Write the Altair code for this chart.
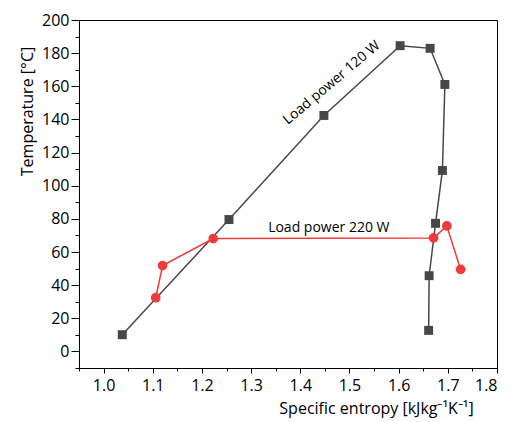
import altair as alt
import pandas as pd

# Load power 120 W (squares)
s120 = [1.038, 1.255, 1.448, 1.603, 1.664, 1.694, 1.689, 1.675, 1.662, 1.661]
t120 = [10.1, 79.6, 142.4, 184.5, 182.9, 161.1, 109.2, 77.3, 45.7, 12.7]
# Load power 220 W (circles)
s220 = [1.106, 1.120, 1.223, 1.671, 1.698, 1.726]
t220 = [32.4, 51.8, 68.1, 68.5, 75.7, 49.5]

series_names = ["Load power 120 W", "Load power 220 W"]
series_colors = ["#474747", "#ef3b3b"]
series_shapes = ["square", "circle"]

x_major_ticks = [1.0, 1.1, 1.2, 1.3, 1.4, 1.5, 1.6, 1.7, 1.8]
x_minor_ticks = [0.95, 1.05, 1.15, 1.25, 1.35, 1.45, 1.55, 1.65, 1.75]
y_major_ticks = [0, 20, 40, 60, 80, 100, 120, 140, 160, 180, 200]
y_minor_ticks = [-10, 10, 30, 50, 70, 90, 110, 130, 150, 170, 190]

labels = ["Load power 120 W", "Load power 220 W"]
label_s = [1.464, 1.458]
label_t = [162.0, 72.0]

rows = []
for i, (s, t) in enumerate(zip(s120, t120)):
    rows.append({"s": s, "T": t, "series": series_names[0], "idx": i})
for i, (s, t) in enumerate(zip(s220, t220)):
    rows.append({"s": s, "T": t, "series": series_names[1], "idx": i})
df = pd.DataFrame(rows)

FONT = "Open Sans"
x_scale = alt.Scale(domain=[0.95, 1.8], nice=False, zero=False)
y_scale = alt.Scale(domain=[-10, 200], nice=False, zero=False)

x_major = alt.X(
    "s:Q",
    scale=x_scale,
    axis=alt.Axis(
        orient="bottom",
        title="Specific entropy [kJkg\u207b\u00b9K\u207b\u00b9]",
        values=x_major_ticks,
        format=".1f",
        labelOverlap=False,
        tickSize=5,
        labelPadding=4,
        titleX=297,
        titleY=45,
        titleAnchor="start",
        titleAlign="center",
        titleBaseline="alphabetic",
    ),
)
y_major = alt.Y(
    "T:Q",
    scale=y_scale,
    axis=alt.Axis(
        orient="left",
        title="Temperature [\u00b0C]",
        values=y_major_ticks,
        format="d",
        labelOverlap=False,
        tickSize=8,
        labelPadding=2,
        titleX=-47,
        titleY=91,
        titleAnchor="start",
        titleAlign="center",
        titleBaseline="alphabetic",
    ),
)
x_minor = alt.X(
    "s:Q",
    scale=x_scale,
    axis=alt.Axis(
        orient="bottom", title=None, values=x_minor_ticks, labels=False,
        domain=False, tickSize=3,
    ),
)
y_minor = alt.Y(
    "T:Q",
    scale=y_scale,
    axis=alt.Axis(
        orient="left", title=None, values=y_minor_ticks, labels=False,
        domain=False, tickSize=4,
    ),
)

color_enc = alt.Color(
    "series:N",
    scale=alt.Scale(domain=series_names, range=series_colors),
    legend=None,
)

lines = alt.Chart(df).mark_line(strokeWidth=1.5).encode(
    x=x_major, y=y_major, color=color_enc, order="idx:Q"
)

points = alt.Chart(df).mark_point(filled=True, opacity=1).encode(
    x=x_minor,
    y=y_minor,
    color=color_enc,
    shape=alt.Shape(
        "series:N",
        scale=alt.Scale(domain=series_names, range=series_shapes),
        legend=None,
    ),
    size=alt.Size(
        "series:N",
        scale=alt.Scale(domain=series_names, range=[80, 95]),
        legend=None,
    ),
)

lab_df = pd.DataFrame({"s": label_s, "T": label_t, "text": labels})

text120 = alt.Chart(lab_df.iloc[[0]]).mark_text(
    font=FONT, fontSize=14, color="black", angle=320, align="center", baseline="middle"
).encode(x=alt.X("s:Q", axis=None), y=alt.Y("T:Q", axis=None), text="text:N")

text220 = alt.Chart(lab_df.iloc[[1]]).mark_text(
    font=FONT, fontSize=14, color="black", align="center", baseline="alphabetic"
).encode(x=alt.X("s:Q", axis=None), y=alt.Y("T:Q", axis=None), text="text:N")

chart = (
    alt.layer(lines, points, text120, text220)
    .resolve_axis(x="independent", y="independent")
    .properties(
        width=418,
        height=348,
        autosize=alt.AutoSizeParams(type="none"),
        padding={"left": 71, "top": 12, "right": 6, "bottom": 52},
        background="white",
    )
    .configure_view(stroke="black", strokeWidth=1)
    .configure_axis(
        grid=False,
        domainColor="black",
        domainWidth=1,
        tickColor="black",
        tickWidth=1,
        labelFont=FONT,
        labelFontSize=16,
        labelColor="black",
        titleFont=FONT,
        titleFontSize=16,
        titleFontWeight="normal",
        titleColor="black",
    )
)

chart.save("out.html", embed_options={"renderer": "svg", "actions": False})
